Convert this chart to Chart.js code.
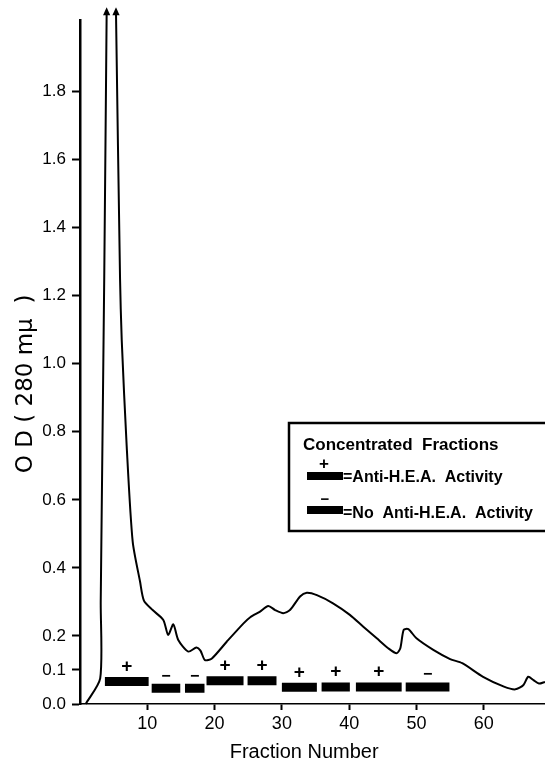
<!DOCTYPE html>
<html><head><meta charset="utf-8">
<script src="https://cdn.jsdelivr.net/npm/chart.js@4"></script>
<style>html,body{margin:0;padding:0;background:#fff;}#wrap{width:545px;height:766px;}</style>
</head><body><div id="wrap"><canvas id="c" width="545" height="766"></canvas></div>
<script>
// Absorbance trace (fraction number, OD at 280 mμ); null = trace runs off scale
const fractionNumber = [0.85, 3.0, 3.08, 3.6, 3.96, 4.6, 5.35, 5.95, 6.2, 6.94, 7.83, 8.92, 9.5, 10.8, 12.38, 13.1, 13.87, 14.6, 16.1, 17.3, 17.9, 18.57, 19.6, 21.8, 24.3, 25.3, 26.7, 27.98, 29.0, 30.2, 31.2, 32.7, 33.7, 35.2, 37.6, 40.1, 42.1, 44.1, 45.8, 47.05, 47.6, 48.1, 48.8, 50.0, 52.5, 55.0, 56.8, 59.9, 63.0, 64.7, 65.9, 66.6, 67.4, 68.2, 69.1];
const odValue =        [0.0, 0.075, 0.3, 1.25, 2.03, null, 2.03, 1.25, 1.07, 0.757, 0.477, 0.36, 0.304, 0.276, 0.247, 0.203, 0.234, 0.188, 0.154, 0.166, 0.157, 0.129, 0.134, 0.183, 0.237, 0.255, 0.271, 0.288, 0.276, 0.267, 0.276, 0.316, 0.327, 0.32, 0.296, 0.262, 0.227, 0.193, 0.164, 0.149, 0.164, 0.218, 0.22, 0.193, 0.159, 0.132, 0.12, 0.08, 0.051, 0.043, 0.056, 0.08, 0.07, 0.06, 0.065];
// Concentrated fractions (bars)
const barStart = [3.7, 10.65, 15.6, 18.8, 24.9, 30.0, 35.9, 41.0, 48.4];
const barEnd   = [10.2, 14.9, 18.5, 24.3, 29.2, 35.2, 40.1, 47.8, 54.9];
const barLevel = [0.066, 0.046, 0.046, 0.068, 0.068, 0.049, 0.05, 0.05, 0.05];
const barSign  = ['+', '−', '−', '+', '+', '+', '+', '+', '−'];
// Axis ticks
const xTickValues = [10, 20, 30, 40, 50, 60];
const yTickValues = [0.0, 0.1, 0.2, 0.4, 0.6, 0.8, 1.0, 1.2, 1.4, 1.6, 1.8];
const xTitle = 'Fraction Number';
const yTitle = 'O D ( 280 mμ  )';
const legendTitle = 'Concentrated  Fractions';
const legendItems = [['+', '=Anti-H.E.A.  Activity'], ['−', '=No  Anti-H.E.A.  Activity']];

const curveData = fractionNumber.map((x, i) => ({x, y: odValue[i]}));
const barData = [];
barStart.forEach((s, i) => {
  barData.push({x: s, y: barLevel[i]});
  barData.push({x: barEnd[i], y: barLevel[i]});
  barData.push({x: (barEnd[i] + (barStart[i + 1] !== undefined ? barStart[i + 1] : barEnd[i] + 1)) / 2, y: null});
});

const overlay = {
  id: 'overlay',
  afterDatasetsDraw(chart) {
    const ctx = chart.ctx, xs = chart.scales.x, ys = chart.scales.y;
    ctx.save();
    ctx.fillStyle = '#000';
    // arrowheads where the trace runs off scale
    curveData.forEach(p => {
      if (p.y !== null && p.y >= 2) {
        const px = xs.getPixelForValue(p.x), py = ys.getPixelForValue(p.y);
        ctx.beginPath();
        ctx.moveTo(px, py - 6);
        ctx.lineTo(px - 3.6, py + 2);
        ctx.lineTo(px + 3.6, py + 2);
        ctx.closePath();
        ctx.fill();
      }
    });
    ctx.textAlign = 'center';
    ctx.textBaseline = 'middle';
    barSign.forEach((s, i) => {
      const cx = xs.getPixelForValue((barStart[i] + barEnd[i]) / 2);
      const cy = ys.getPixelForValue(barLevel[i]);
      if (s === '+') { ctx.font = 'bold 19px "Liberation Sans"'; ctx.fillText(s, cx, cy - 15); }
      else { ctx.font = 'bold 16px "Liberation Sans"'; ctx.fillText(s, cx, cy - 12); }
    });
    // legend box
    ctx.lineWidth = 2.5;
    ctx.strokeStyle = '#000';
    ctx.strokeRect(289, 423, 300, 108);
    ctx.textAlign = 'left';
    ctx.textBaseline = 'alphabetic';
    ctx.font = 'bold 17px "Liberation Sans"';
    ctx.fillText(legendTitle, 303, 450);
    const rows = [[472, 482], [506, 518]];
    legendItems.forEach((it, i) => {
      const [by, ty] = rows[i];
      ctx.fillRect(307, by, 36, 8);
      ctx.textAlign = 'center';
      ctx.textBaseline = 'middle';
      if (it[0] === '+') { ctx.font = 'bold 17px "Liberation Sans"'; ctx.fillText(it[0], 324, by - 8); }
      else { ctx.font = 'bold 15px "Liberation Sans"'; ctx.fillText(it[0], 325, by - 6); }
      ctx.textAlign = 'left';
      ctx.textBaseline = 'alphabetic';
      ctx.font = 'bold 16px "Liberation Sans"';
      ctx.fillText(it[1], 343, ty);
    });
    ctx.restore();
  }
};

new Chart(document.getElementById('c'), {
  type: 'line',
  data: {
    datasets: [
      {
        data: curveData, borderColor: '#000', borderWidth: 2, tension: 0.25, spanGaps: false,
        clip: false, pointRadius: 0
      },
      {
        data: barData, borderColor: '#000', borderWidth: 9, borderCapStyle: 'butt',
        pointRadius: 0, spanGaps: false, tension: 0
      }
    ]
  },
  options: {
    responsive: false, animation: false, devicePixelRatio: 1,
    layout: {padding: {top: 20, right: 0, left: 0, bottom: 0}},
    plugins: {legend: {display: false}, tooltip: {enabled: false}},
    scales: {
      x: {
        type: 'linear', min: 0, max: 69.1,
        afterBuildTicks: s => { s.ticks = xTickValues.map(v => ({value: v})); },
        afterFit: s => { s.height = 62; },
        ticks: {color: '#000', font: {family: 'Liberation Sans', size: 18}, padding: 3, maxRotation: 0, autoSkip: false, callback: v => String(v)},
        grid: {display: true, drawOnChartArea: false, drawTicks: true, tickLength: 6, tickColor: '#000', tickWidth: 2},
        border: {display: true, color: '#000', width: 1.5},
        title: {display: true, text: xTitle + '   ', color: '#000', font: {family: 'Liberation Sans', size: 20}, padding: {top: 0, bottom: 2}}
      },
      y: {
        type: 'linear', min: 0, max: 2.01,
        afterBuildTicks: s => { s.ticks = yTickValues.map(v => ({value: v})); },
        afterFit: s => { s.width = 80; },
        ticks: {color: '#000', font: {family: 'Liberation Sans', size: 17}, padding: 6, autoSkip: false, callback: v => Number(v).toFixed(1)},
        grid: {display: true, drawOnChartArea: false, drawTicks: true, tickLength: 8, tickColor: '#000', tickWidth: 2},
        border: {display: true, color: '#000', width: 2.5},
        title: {display: true, text: yTitle + '      ', color: '#000', font: {family: 'DejaVu Sans', size: 23}, padding: {top: 12, bottom: 0}}
      }
    }
  },
  plugins: [overlay]
});
</script>
</body></html>
